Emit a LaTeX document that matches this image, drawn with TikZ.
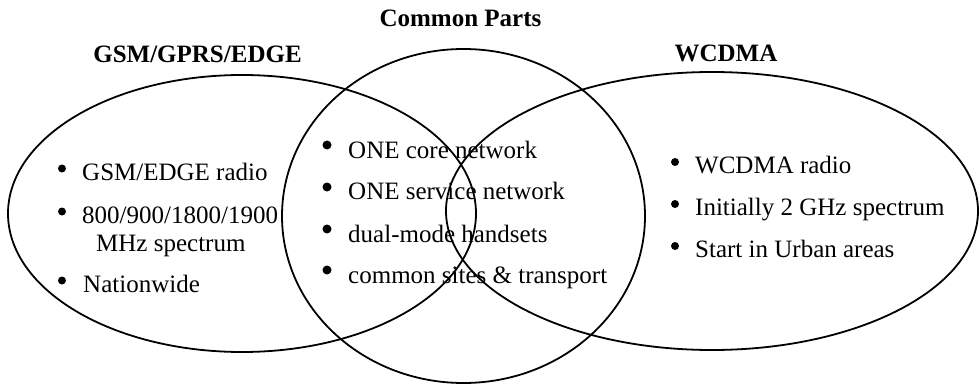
\documentclass[tikz,border=0pt]{standalone}
\usepackage{fontspec}
\setmainfont{Liberation Serif}
\begin{document}
\begin{tikzpicture}[x=1pt,y=-1pt,
  set/.style={draw=black,line width=1.8pt},
  ttl/.style={anchor=base,inner sep=0pt,font=\fontsize{25}{26}\selectfont\bfseries},
  itm/.style={anchor=base west,inner sep=0pt,font=\fontsize{25}{26}\selectfont},
  bul/.style={circle,fill=black,inner sep=0pt,minimum size=8pt}]
\useasboundingbox[fill=white] (0,0) rectangle (980,385);
% sets
\draw[set] (242,213.5) ellipse [x radius=234pt, y radius=138.5pt];
\draw[set] (463.5,216) ellipse [x radius=181.5pt, y radius=167pt];
\draw[set] (712,211) ellipse [x radius=266pt, y radius=139pt];
% titles
\node[ttl] (tc) at (460.5,27) {Common Parts};
\node[ttl] (tg) at (197.5,63) {GSM/GPRS/EDGE};
\node[ttl] (tw) at (726,62) {WCDMA};
% left items
\node[bul] (bl1) at (62,168.5) {};
\node[itm] (l1) at (82,180) {GSM/EDGE radio};
\node[bul] (bl2) at (62,211.5) {};
\node[itm] (l2) at (82,223) {800/900/1800/1900};
\node[itm] (l2b) at (96,251) {MHz spectrum};
\node[bul] (bl3) at (62,280.5) {};
\node[itm] (l3) at (83,292) {Nationwide};
% middle items
\node[bul,minimum size=9pt] (bm1) at (327,145) {};
\node[itm] (m1) at (348,158) {ONE core network};
\node[bul,minimum size=9pt] (bm2) at (327,187) {};
\node[itm] (m2) at (348,200) {ONE service network};
\node[bul,minimum size=9pt] (bm3) at (327,229) {};
\node[itm] (m3) at (348,242) {dual-mode handsets};
\node[bul,minimum size=9pt] (bm4) at (327,270) {};
\node[itm] (m4) at (348,283) {common sites \& transport};
% right items
\node[bul] (br1) at (675,162) {};
\node[itm] (r1) at (695,173) {WCDMA radio};
\node[bul] (br2) at (675,204) {};
\node[itm] (r2) at (695,215) {Initially 2 GHz spectrum};
\node[bul] (br3) at (675,246) {};
\node[itm] (r3) at (695,257) {Start in Urban areas};
\end{tikzpicture}
\end{document}
